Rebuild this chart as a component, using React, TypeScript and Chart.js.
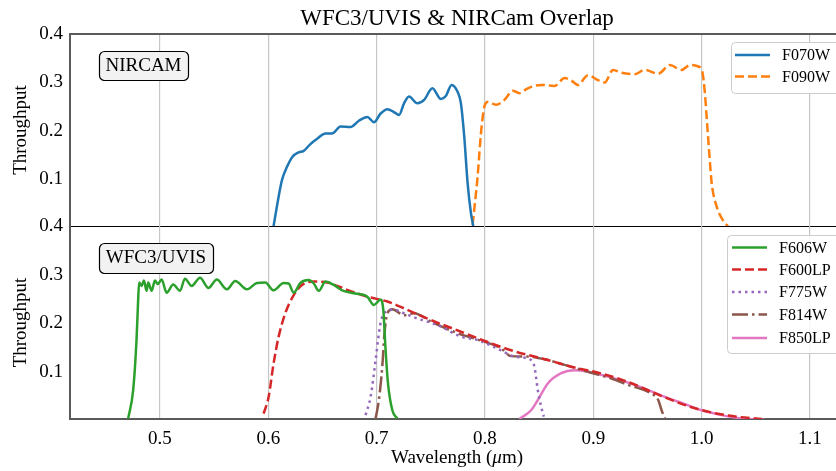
import React, { useEffect, useRef } from 'react';
import { Chart, registerables } from 'chart.js';
Chart.register(...registerables);

// ---------- data ----------
const X_TICKS = [0.5, 0.6, 0.7, 0.8, 0.9, 1.0, 1.1];
const Y_TICKS = [0.1, 0.2, 0.3, 0.4];

const F070W_WAVE = [0.6049, 0.6096, 0.6127, 0.6173, 0.622, 0.6281, 0.6327, 0.6389, 0.6451, 0.6528, 0.659, 0.6667, 0.6759, 0.6836, 0.6914, 0.6975, 0.7037, 0.7099, 0.716, 0.7207, 0.7253, 0.7299, 0.7377, 0.7438, 0.7515, 0.7593, 0.7639, 0.7692, 0.7747, 0.7778, 0.7809, 0.784, 0.7871, 0.7892];
const F070W_THRU = [0.004, 0.065, 0.099, 0.126, 0.146, 0.156, 0.159, 0.173, 0.184, 0.195, 0.195, 0.209, 0.208, 0.221, 0.229, 0.218, 0.236, 0.245, 0.239, 0.233, 0.257, 0.271, 0.257, 0.264, 0.288, 0.266, 0.272, 0.295, 0.281, 0.257, 0.188, 0.092, 0.03, 0.004];

const F090W_WAVE = [0.7886, 0.7932, 0.7963, 0.7994, 0.8025, 0.8102, 0.8179, 0.8257, 0.8318, 0.8395, 0.8519, 0.8642, 0.8735, 0.8796, 0.8858, 0.8951, 0.9043, 0.9105, 0.9182, 0.9259, 0.9383, 0.9475, 0.9599, 0.9707, 0.9815, 0.9892, 0.9969, 1.0006, 1.003, 1.0046, 1.0068, 1.0093, 1.0139, 1.0185, 1.0247];
const F090W_THRU = [0.006, 0.106, 0.195, 0.25, 0.26, 0.254, 0.264, 0.283, 0.278, 0.288, 0.295, 0.293, 0.309, 0.304, 0.295, 0.315, 0.305, 0.3, 0.326, 0.32, 0.317, 0.326, 0.318, 0.336, 0.326, 0.336, 0.333, 0.322, 0.278, 0.229, 0.161, 0.092, 0.044, 0.02, 0.002];

const F606W_WAVE = [0.4707, 0.4753, 0.4784, 0.4799, 0.4808, 0.4831, 0.4852, 0.4877, 0.4892, 0.4923, 0.4954, 0.4979, 0.5016, 0.5062, 0.5123, 0.5185, 0.5231, 0.5293, 0.537, 0.5448, 0.5525, 0.5618, 0.5695, 0.5803, 0.5896, 0.5972, 0.6049, 0.6142, 0.6188, 0.6235, 0.6296, 0.6373, 0.642, 0.6466, 0.6528, 0.6605, 0.6682, 0.679, 0.6852, 0.6914, 0.6975, 0.7037, 0.7062, 0.7083, 0.7105, 0.7145, 0.7191];
const F606W_THRU = [0.005, 0.063, 0.166, 0.248, 0.284, 0.277, 0.288, 0.267, 0.284, 0.267, 0.288, 0.281, 0.29, 0.263, 0.28, 0.267, 0.292, 0.277, 0.294, 0.273, 0.29, 0.27, 0.287, 0.27, 0.283, 0.284, 0.268, 0.283, 0.282, 0.263, 0.283, 0.289, 0.282, 0.267, 0.286, 0.279, 0.268, 0.262, 0.26, 0.255, 0.238, 0.249, 0.227, 0.145, 0.077, 0.022, 0.005];

const F600LP_WAVE = [0.5957, 0.6003, 0.6049, 0.6096, 0.6157, 0.6235, 0.6312, 0.642, 0.6543, 0.6728, 0.6914, 0.7099, 0.7222, 0.7469, 0.7778, 0.8025, 0.8241, 0.858, 0.8858, 0.9012, 0.9321, 0.963, 0.9938, 1.0247, 1.0556];
const F600LP_THRU = [0.015, 0.049, 0.118, 0.173, 0.221, 0.258, 0.279, 0.286, 0.284, 0.269, 0.255, 0.245, 0.234, 0.21, 0.183, 0.162, 0.145, 0.125, 0.108, 0.101, 0.08, 0.051, 0.026, 0.011, 0.004];

const F775W_WAVE = [0.6898, 0.6944, 0.6991, 0.7021, 0.7043, 0.7068, 0.716, 0.7253, 0.7377, 0.7562, 0.7778, 0.7932, 0.8148, 0.8272, 0.8426, 0.8457, 0.8488, 0.8519, 0.8543];
const F775W_THRU = [0.012, 0.049, 0.125, 0.18, 0.207, 0.221, 0.228, 0.221, 0.21, 0.197, 0.173, 0.166, 0.145, 0.132, 0.125, 0.111, 0.063, 0.029, 0.009];

const F814W_WAVE = [0.6991, 0.7021, 0.7052, 0.7073, 0.7099, 0.7145, 0.7253, 0.7346, 0.75, 0.7747, 0.7932, 0.8148, 0.8241, 0.8395, 0.858, 0.8735, 0.8951, 0.9167, 0.9321, 0.9537, 0.9599, 0.963, 0.966];
const F814W_THRU = [0.005, 0.043, 0.111, 0.18, 0.221, 0.229, 0.217, 0.221, 0.204, 0.18, 0.167, 0.149, 0.133, 0.132, 0.125, 0.115, 0.101, 0.087, 0.074, 0.056, 0.043, 0.022, 0.005];

const F850LP_WAVE = [0.8318, 0.8426, 0.8488, 0.858, 0.8704, 0.8827, 0.8951, 0.9136, 0.9383, 0.963, 0.9877, 1.0, 1.0185, 1.037, 1.0586];
const F850LP_THRU = [0.004, 0.022, 0.043, 0.077, 0.098, 0.104, 0.101, 0.091, 0.074, 0.052, 0.032, 0.022, 0.012, 0.005, 0.002];

// ---------- style ----------
const W = 836;
const H = 471;
const X_MIN = 0.417;
const X_MAX = 1.124;
const Y_MIN = 0.004;
const Y_MAX = 0.4;
const SERIF = '"Liberation Serif", "Times New Roman", Times, serif';
const SPINE = '#5a5a5a';
const GRID = '#c6c6c6';
const LW = 2.5;
const DASHED = [9, 4];
const DOTTED = [2.5, 4];
const DASHDOT = [16, 4, 2.5, 4];

const C_BLUE = '#1f77b4';
const C_ORANGE = '#ff7f0e';
const C_GREEN = '#2ca02c';
const C_RED = '#d62728';
const C_PURPLE = '#9467bd';
const C_BROWN = '#8c564b';
const C_PINK = '#e377c2';

type Item = { label: string; color: string; dash: number[] };

function makeDs(label: string, w: number[], t: number[], color: string, dash: number[]) {
  return {
    label,
    data: w.map((x, i) => ({ x, y: t[i] })),
    borderColor: color,
    backgroundColor: color,
    borderWidth: LW,
    borderDash: dash,
    borderCapStyle: 'butt',
    borderJoinStyle: 'round',
    pointRadius: 0,
    fill: false,
    cubicInterpolationMode: 'monotone',
  };
}

function scales(showX: boolean) {
  return {
    x: {
      type: 'linear',
      min: X_MIN,
      max: X_MAX,
      afterBuildTicks: (s: any) => {
        s.ticks = X_TICKS.map((v) => ({ value: v }));
      },
      afterFit: (s: any) => {
        s.height = showX ? 52 : 0;
      },
      grid: { color: GRID, lineWidth: 1.2, drawTicks: false },
      border: { display: showX, color: SPINE, width: 2 },
      ticks: {
        display: showX,
        padding: 9,
        color: '#000',
        font: { family: SERIF, size: 19 },
        callback: (v: any) => Number(v).toFixed(1),
      },
    },
    y: {
      type: 'linear',
      min: Y_MIN,
      max: Y_MAX,
      afterBuildTicks: (s: any) => {
        s.ticks = Y_TICKS.map((v) => ({ value: v }));
      },
      afterFit: (s: any) => {
        s.width = 70;
      },
      grid: { display: false, drawTicks: false },
      border: { display: true, color: SPINE, width: 2 },
      ticks: {
        padding: 7,
        color: '#000',
        font: { family: SERIF, size: 19 },
        callback: (v: any) => Number(v).toFixed(1),
      },
    },
  };
}

function roundRect(ctx: CanvasRenderingContext2D, x: number, y: number, w: number, h: number, r: number) {
  ctx.beginPath();
  ctx.moveTo(x + r, y);
  ctx.lineTo(x + w - r, y);
  ctx.arcTo(x + w, y, x + w, y + r, r);
  ctx.lineTo(x + w, y + h - r);
  ctx.arcTo(x + w, y + h, x + w - r, y + h, r);
  ctx.lineTo(x + r, y + h);
  ctx.arcTo(x, y + h, x, y + h - r, r);
  ctx.lineTo(x, y + r);
  ctx.arcTo(x, y, x + r, y, r);
  ctx.closePath();
}

function drawTag(ctx: CanvasRenderingContext2D, text: string, x: number, y: number, w: number, h: number, baseline: number) {
  ctx.save();
  roundRect(ctx, x + 0.5, y + 0.5, w, h, 5);
  ctx.fillStyle = '#f2f2f2';
  ctx.fill();
  ctx.strokeStyle = '#000';
  ctx.lineWidth = 1.2;
  ctx.stroke();
  ctx.fillStyle = '#000';
  ctx.font = `19px ${SERIF}`;
  ctx.textAlign = 'center';
  ctx.textBaseline = 'alphabetic';
  ctx.fillText(text, x + w / 2, baseline);
  ctx.restore();
}

function drawLegend(
  ctx: CanvasRenderingContext2D,
  box: { x: number; y: number; w: number; h: number },
  items: Item[],
  ys: number[],
  x0: number,
  x1: number,
  tx: number
) {
  ctx.save();
  roundRect(ctx, box.x + 0.5, box.y + 0.5, box.w, box.h, 4);
  ctx.fillStyle = 'rgba(255,255,255,0.85)';
  ctx.fill();
  ctx.strokeStyle = '#cccccc';
  ctx.lineWidth = 1;
  ctx.stroke();
  items.forEach((it, i) => {
    const y = ys[i];
    ctx.beginPath();
    ctx.setLineDash(it.dash);
    ctx.lineCap = 'butt';
    ctx.strokeStyle = it.color;
    ctx.lineWidth = LW;
    ctx.moveTo(x0, y);
    ctx.lineTo(x1, y);
    ctx.stroke();
    ctx.setLineDash([]);
    ctx.fillStyle = '#000';
    ctx.font = `16px ${SERIF}`;
    ctx.textAlign = 'left';
    ctx.textBaseline = 'middle';
    ctx.fillText(it.label, tx, y + 1);
  });
  ctx.restore();
}

function drawYLabel(ctx: CanvasRenderingContext2D, cy: number) {
  ctx.save();
  ctx.translate(26, cy);
  ctx.rotate(-Math.PI / 2);
  ctx.fillStyle = '#000';
  ctx.font = `19px ${SERIF}`;
  ctx.textAlign = 'center';
  ctx.textBaseline = 'alphabetic';
  ctx.fillText('Throughput', 0, 0);
  ctx.restore();
}

const TOP_ITEMS: Item[] = [
  { label: 'F070W', color: C_BLUE, dash: [] },
  { label: 'F090W', color: C_ORANGE, dash: DASHED },
];
const BOTTOM_ITEMS: Item[] = [
  { label: 'F606W', color: C_GREEN, dash: [] },
  { label: 'F600LP', color: C_RED, dash: DASHED },
  { label: 'F775W', color: C_PURPLE, dash: DOTTED },
  { label: 'F814W', color: C_BROWN, dash: DASHDOT },
  { label: 'F850LP', color: C_PINK, dash: [] },
];

const topDecor = {
  id: 'topDecor',
  afterDraw(chart: any) {
    const ctx: CanvasRenderingContext2D = chart.ctx;
    const a = chart.chartArea;
    ctx.save();
    // top spine
    ctx.strokeStyle = SPINE;
    ctx.lineWidth = 2;
    ctx.beginPath();
    ctx.moveTo(a.left - 1, a.top);
    ctx.lineTo(a.right, a.top);
    ctx.stroke();
    // panel separator
    ctx.strokeStyle = '#000';
    ctx.lineWidth = 1;
    ctx.beginPath();
    ctx.moveTo(a.left, 226.5);
    ctx.lineTo(a.right, 226.5);
    ctx.stroke();
    // title
    ctx.fillStyle = '#000';
    ctx.font = `23px ${SERIF}`;
    ctx.textAlign = 'center';
    ctx.textBaseline = 'alphabetic';
    ctx.fillText('WFC3/UVIS & NIRCam Overlap', 457, 25);
    ctx.restore();
    drawTag(ctx, 'NIRCAM', 99, 51, 89, 29, 71);
    drawLegend(ctx, { x: 731, y: 42, w: 120, h: 51 }, TOP_ITEMS, [55, 76.5], 735, 770, 782);
    drawYLabel(ctx, (a.top + a.bottom) / 2);
  },
};

const bottomDecor = {
  id: 'bottomDecor',
  afterDraw(chart: any) {
    const ctx: CanvasRenderingContext2D = chart.ctx;
    const a = chart.chartArea;
    drawTag(ctx, 'WFC3/UVIS', 99, 243, 114, 30, 263);
    drawLegend(ctx, { x: 727, y: 235, w: 120, h: 118 }, BOTTOM_ITEMS, [247.5, 269.5, 292, 314.5, 338], 732, 767, 779);
    drawYLabel(ctx, (a.top + a.bottom) / 2);
    // x label with italic mu
    ctx.save();
    ctx.fillStyle = '#000';
    ctx.textBaseline = 'alphabetic';
    ctx.textAlign = 'left';
    const p1 = 'Wavelength (';
    const p2 = '\u03bc';
    const p3 = 'm)';
    const fN = `19px ${SERIF}`;
    const fI = `italic 19px ${SERIF}`;
    ctx.font = fN;
    const w1 = ctx.measureText(p1).width;
    const w3 = ctx.measureText(p3).width;
    ctx.font = fI;
    const w2 = ctx.measureText(p2).width;
    const total = w1 + w2 + w3;
    let x = (a.left + a.right) / 2 - total / 2 + 4;
    const y = 463;
    ctx.font = fN;
    ctx.fillText(p1, x, y);
    x += w1;
    ctx.font = fI;
    ctx.fillText(p2, x, y);
    x += w2;
    ctx.font = fN;
    ctx.fillText(p3, x, y);
    ctx.restore();
  },
};

export default function App() {
  const topRef = useRef<HTMLCanvasElement>(null);
  const botRef = useRef<HTMLCanvasElement>(null);

  useEffect(() => {
    const common = {
      responsive: false,
      animation: false,
      devicePixelRatio: 1,
      plugins: { legend: { display: false }, tooltip: { enabled: false }, title: { display: false } },
    };
    const top = new Chart(topRef.current as HTMLCanvasElement, {
      type: 'line',
      data: {
        datasets: [
          makeDs('F070W', F070W_WAVE, F070W_THRU, C_BLUE, []),
          makeDs('F090W', F090W_WAVE, F090W_THRU, C_ORANGE, DASHED),
        ] as any,
      },
      options: {
        ...common,
        layout: { padding: { top: 34, bottom: H - 226, left: 0, right: 0 } },
        scales: scales(false) as any,
      } as any,
      plugins: [topDecor],
    });
    const bot = new Chart(botRef.current as HTMLCanvasElement, {
      type: 'line',
      data: {
        datasets: [
          makeDs('F606W', F606W_WAVE, F606W_THRU, C_GREEN, []),
          makeDs('F600LP', F600LP_WAVE, F600LP_THRU, C_RED, DASHED),
          makeDs('F775W', F775W_WAVE, F775W_THRU, C_PURPLE, DOTTED),
          makeDs('F814W', F814W_WAVE, F814W_THRU, C_BROWN, DASHDOT),
          makeDs('F850LP', F850LP_WAVE, F850LP_THRU, C_PINK, []),
        ] as any,
      },
      options: {
        ...common,
        layout: { padding: { top: 226, bottom: 0, left: 0, right: 0 } },
        scales: scales(true) as any,
      } as any,
      plugins: [bottomDecor],
    });
    return () => {
      top.destroy();
      bot.destroy();
    };
  }, []);

  const cs: React.CSSProperties = { position: 'absolute', left: 0, top: 0, width: W, height: H };
  return (
    <div style={{ position: 'fixed', left: 0, top: 0, width: W, height: H, background: '#fff', overflow: 'hidden' }}>
      <canvas ref={topRef} width={W} height={H} style={cs} />
      <canvas ref={botRef} width={W} height={H} style={cs} />
    </div>
  );
}
